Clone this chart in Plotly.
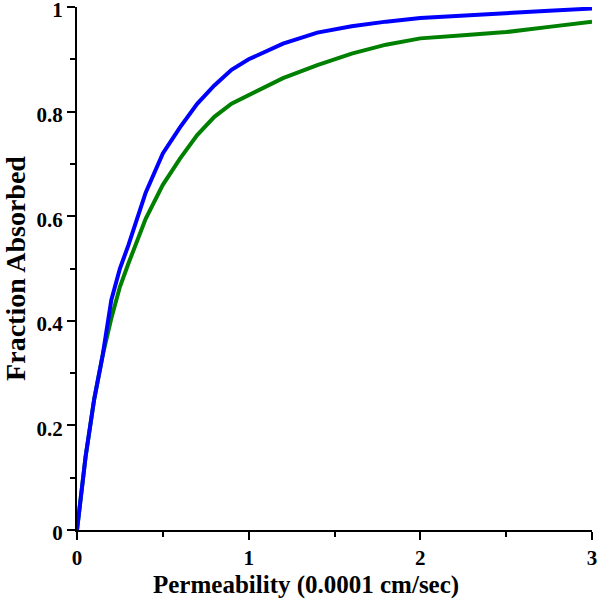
import plotly.graph_objects as go

# permeability (0.0001 cm/sec)
permeability = [0, 0.05, 0.1, 0.15, 0.2, 0.25, 0.3, 0.4, 0.5, 0.6, 0.7, 0.8, 0.9,
                1.0, 1.2, 1.4, 1.6, 1.8, 2.0, 2.25, 2.5, 2.75, 3.0]
# fraction absorbed, upper (blue) curve
absorbed_blue = [0, 0.14, 0.25, 0.335, 0.44, 0.50, 0.545, 0.645, 0.72, 0.77, 0.815,
                 0.85, 0.88, 0.90, 0.93, 0.951, 0.963, 0.972, 0.979, 0.984, 0.989,
                 0.993, 0.997]
# fraction absorbed, lower (green) curve
absorbed_green = [0, 0.14, 0.25, 0.335, 0.405, 0.465, 0.51, 0.595, 0.66, 0.71, 0.755,
                  0.79, 0.815, 0.832, 0.864, 0.889, 0.911, 0.928, 0.94, 0.946, 0.952,
                  0.962, 0.972]

FONT = "Liberation Serif"

fig = go.Figure()
fig.add_trace(go.Scatter(x=permeability, y=absorbed_green, mode="lines",
                         line=dict(color="#008000", width=4)))
fig.add_trace(go.Scatter(x=permeability, y=absorbed_blue, mode="lines",
                         line=dict(color="#0000ff", width=4)))

axis_common = dict(
    showgrid=False, zeroline=False, showline=True, linecolor="black", linewidth=2,
    ticks="outside", ticklen=8, tickwidth=2, tickcolor="black",
    tickfont=dict(family=FONT, size=21, color="black", weight="bold"),
    automargin=False, ticklabeloverflow="allow",
)

fig.update_layout(
    width=600, height=601,
    margin=dict(l=77, r=8, t=7, b=71),
    plot_bgcolor="white", paper_bgcolor="white",
    showlegend=False,
    font=dict(family=FONT, color="black"),
    xaxis=dict(range=[0, 3], tickvals=[0, 1, 2, 3], ticktext=["0", "1", "2", "3"],
               minor=dict(dtick=0.5, ticks="outside", ticklen=5, tickwidth=2, tickcolor="black"),
               **axis_common),
    yaxis=dict(range=[0, 1], tickvals=[0, 0.2, 0.4, 0.6, 0.8, 1],
               ticktext=["0", "0.2", "0.4", "0.6", "0.8", "1"],
               minor=dict(dtick=0.1, ticks="outside", ticklen=5, tickwidth=2, tickcolor="black"),
               title=dict(text="<b>Fraction Absorbed</b>",
                          font=dict(family=FONT, size=28, color="black")),
               ticklabelshift=3,
               **axis_common),
)

# x title sits a bit left of the plot centre in the original
fig.add_annotation(text="<b>Permeability (0.0001 cm/sec)</b>",
                   xref="paper", yref="paper", x=0.445, y=-0.106,
                   xanchor="center", yanchor="middle", showarrow=False,
                   font=dict(family=FONT, size=25, color="black"))

# the page's default body margin would push the 600px figure off the window
fig.write_html("out.html", config={"displayModeBar": False},
               post_script="document.body.style.margin='0';")
